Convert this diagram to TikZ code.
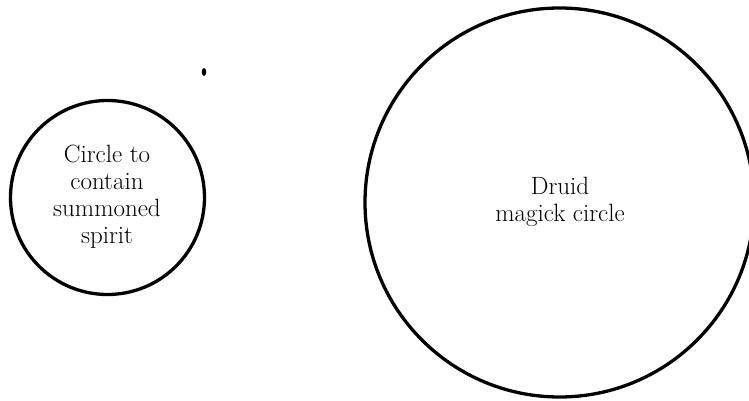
\documentclass[tikz,border=0pt]{standalone}
\begin{document}
\begin{tikzpicture}[x=1pt,y=-1pt,
  ring/.style={circle,draw=black,line width=3.3pt,inner sep=0pt},
  lbl/.style={align=center,font=\fontsize{25}{27}\selectfont}]
\useasboundingbox (0,0) rectangle (749,401);
\node[ring,minimum size=194pt] (spirit) at (107.5,197.5) {};
\node[lbl] (spirittext) at (107,197) {Circle to\\contain\\summoned\\spirit};
\node[ring,minimum size=389pt] (druid) at (559.5,202.5) {};
\node[lbl] (druidtext) at (560,202) {Druid\\magick circle};
\fill[black] (204,72) ellipse (2.2pt and 4pt);
\end{tikzpicture}
\end{document}
